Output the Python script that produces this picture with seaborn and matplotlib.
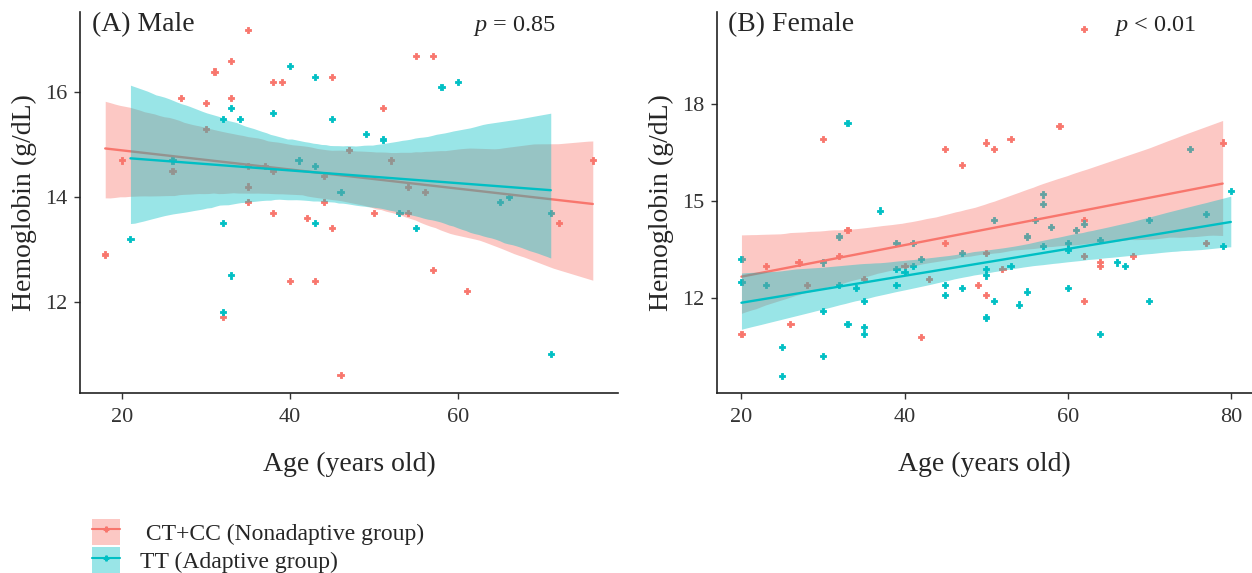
import matplotlib
matplotlib.use("Agg")
import matplotlib.pyplot as plt
from matplotlib.patches import Patch
from matplotlib.lines import Line2D
from matplotlib.legend_handler import HandlerTuple
import seaborn as sns
import pandas as pd

RED = "#F8766D"
CYAN = "#00BFC4"

# (A) Male
male_ct_age = [18, 20, 26, 27, 30, 30, 31, 32, 33, 33, 35, 35, 35, 35, 37, 38, 38, 38, 39, 40,
               42, 43, 44, 44, 45, 45, 46, 47, 50, 51, 52, 54, 54, 55, 56, 57, 57, 61, 72, 76]
male_ct_hb = [12.9, 14.7, 14.5, 15.9, 15.8, 15.3, 16.4, 11.7, 16.6, 15.9, 17.2, 14.6, 14.2, 13.9,
              14.6, 16.2, 14.5, 13.7, 16.2, 12.4, 13.6, 12.4, 14.4, 13.9, 16.3, 13.4, 10.6, 14.9,
              13.7, 15.7, 14.7, 14.2, 13.7, 16.7, 14.1, 16.7, 12.6, 12.2, 13.5, 14.7]
male_tt_age = [21, 26, 32, 32, 32, 33, 33, 34, 38, 40, 41, 43, 43, 43, 45, 46, 49, 51, 53, 55,
               58, 60, 65, 66, 71, 71]
male_tt_hb = [13.2, 14.7, 15.5, 13.5, 11.8, 15.7, 12.5, 15.5, 15.6, 16.5, 14.7, 16.3, 14.6, 13.5,
              15.5, 14.1, 15.2, 15.1, 13.7, 13.4, 16.1, 16.2, 13.9, 14.0, 13.7, 11.0]

# (B) Female
female_ct_age = [20, 23, 26, 27, 28, 30, 32, 33, 35, 40, 42, 43, 45, 45, 47, 49, 50, 50, 50, 51,
                 52, 53, 59, 62, 62, 62, 62, 64, 64, 68, 77, 79]
female_ct_hb = [10.9, 13.0, 11.2, 13.1, 12.4, 16.9, 13.3, 14.1, 12.6, 13.0, 10.8, 12.6, 16.6, 13.7,
                16.1, 12.4, 16.8, 13.4, 12.1, 16.6, 12.9, 16.9, 17.3, 14.4, 13.3, 11.9, 20.3,
                13.1, 13.0, 13.3, 13.7, 16.8]
female_tt_age = [20, 20, 23, 25, 25, 30, 30, 30, 32, 32, 33, 33, 34, 35, 35, 35, 37, 39, 39, 39,
                 40, 41, 41, 42, 45, 45, 47, 47, 50, 50, 50, 51, 51, 53, 54, 55, 55, 56, 57, 57,
                 57, 58, 60, 60, 60, 61, 62, 64, 64, 66, 67, 70, 70, 75, 77, 79, 80]
female_tt_hb = [13.2, 12.5, 12.4, 10.5, 9.6, 13.1, 11.6, 10.2, 13.9, 12.4, 17.4, 11.2, 12.3, 11.9,
                11.1, 10.9, 14.7, 13.7, 12.9, 12.4, 12.8, 13.7, 13.0, 13.2, 12.4, 12.1, 13.4,
                12.3, 12.9, 12.7, 11.4, 14.4, 11.9, 13.0, 11.8, 13.9, 12.2, 14.4, 15.2, 14.9,
                13.6, 14.2, 13.7, 13.5, 12.3, 14.1, 14.3, 13.8, 10.9, 13.1, 13.0, 14.4, 11.9,
                16.6, 14.6, 13.6, 15.3]

group_labels = [" CT+CC (Nonadaptive group)", "TT (Adaptive group)"]

sns.set_theme(style="ticks")
plt.rcParams["font.family"] = ["Liberation Serif", "DejaVu Serif"]
plt.rcParams["mathtext.fontset"] = "custom"
plt.rcParams["mathtext.rm"] = "Liberation Serif"
plt.rcParams["mathtext.it"] = "Liberation Serif:italic"


def draw_panel(ax, ct_age, ct_hb, tt_age, tt_hb):
    df = pd.DataFrame({
        "age": ct_age + tt_age,
        "hb": ct_hb + tt_hb,
        "group": ["CT+CC"] * len(ct_age) + ["TT"] * len(tt_age),
    })
    sns.scatterplot(data=df, x="age", y="hb", hue="group", palette=[RED, CYAN],
                    marker="P", s=20, linewidth=0.6, edgecolor="face", legend=False,
                    ax=ax, zorder=1)
    z = 2
    for grp, col in [("CT+CC", RED), ("TT", CYAN)]:
        sub = df[df["group"] == grp]
        sns.regplot(data=sub, x="age", y="hb", scatter=False, color=col, seed=3, ax=ax,
                    line_kws={"linewidth": 1.7, "zorder": z + 0.5})
        # band drawn by regplot: make it opaque enough and put it over the points
        band = ax.collections[-1]
        band.set_alpha(0.4)
        band.set_zorder(z)
        band.set_linewidth(0)
        z += 1
    ax.set_xlabel("Age (years old)", fontsize=20, labelpad=18)
    ax.set_ylabel("Hemoglobin (g/dL)", fontsize=20, labelpad=6)
    ax.tick_params(labelsize=16, length=4, width=1, pad=7, color="#333333",
                   labelcolor="#333333")
    ax.tick_params(axis="y", pad=5)
    for side in ["top", "right"]:
        ax.spines[side].set_visible(False)
    for side in ["left", "bottom"]:
        ax.spines[side].set_color("#222222")
        ax.spines[side].set_linewidth(1.2)


fig = plt.figure(figsize=(12.52, 5.73), dpi=100)
ax1 = fig.add_axes([80 / 1252, 1 - 393 / 573, 538 / 1252, 381 / 573])
ax2 = fig.add_axes([717 / 1252, 1 - 393 / 573, 535 / 1252, 381 / 573])

draw_panel(ax1, male_ct_age, male_ct_hb, male_tt_age, male_tt_hb)
ax1.set_xlim(15, 79)
ax1.set_ylim(10.25, 17.54)
ax1.set_xticks([20, 40, 60])
ax1.set_yticks([12, 14, 16])
ax1.text(0.022, 1.0, "(A) Male", transform=ax1.transAxes, va="top", fontsize=20)
ax1.text(0.808, 0.962, "$p$ = 0.85", transform=ax1.transAxes, ha="center", va="center",
         fontsize=17.5)

draw_panel(ax2, female_ct_age, female_ct_hb, female_tt_age, female_tt_hb)
ax2.set_xlim(17, 82.6)
ax2.set_ylim(9.07, 20.83)
ax2.set_xticks([20, 40, 60, 80])
ax2.set_yticks([12, 15, 18])
ax2.text(0.021, 1.0, "(B) Female", transform=ax2.transAxes, va="top", fontsize=20)
ax2.text(0.819, 0.962, "$p$ < 0.01", transform=ax2.transAxes, ha="center", va="center",
         fontsize=17.5)

handles = [
    (Patch(facecolor=RED, alpha=0.4, linewidth=0),
     Line2D([], [], color=RED, marker="P", markersize=3.5, linewidth=1.5)),
    (Patch(facecolor=CYAN, alpha=0.4, linewidth=0),
     Line2D([], [], color=CYAN, marker="P", markersize=3.5, linewidth=1.5)),
]
fig.legend(handles=handles, labels=group_labels,
           handler_map={tuple: HandlerTuple(ndivide=1, pad=0)},
           loc="lower left", bbox_to_anchor=(92 / 1252, 0.0), frameon=False, fontsize=17,
           handlelength=1.2, handleheight=1.3, labelspacing=0.1, handletextpad=0.85,
           borderaxespad=0.0, borderpad=0.0)

fig.savefig("out.png", dpi=100)
plt.close(fig)
